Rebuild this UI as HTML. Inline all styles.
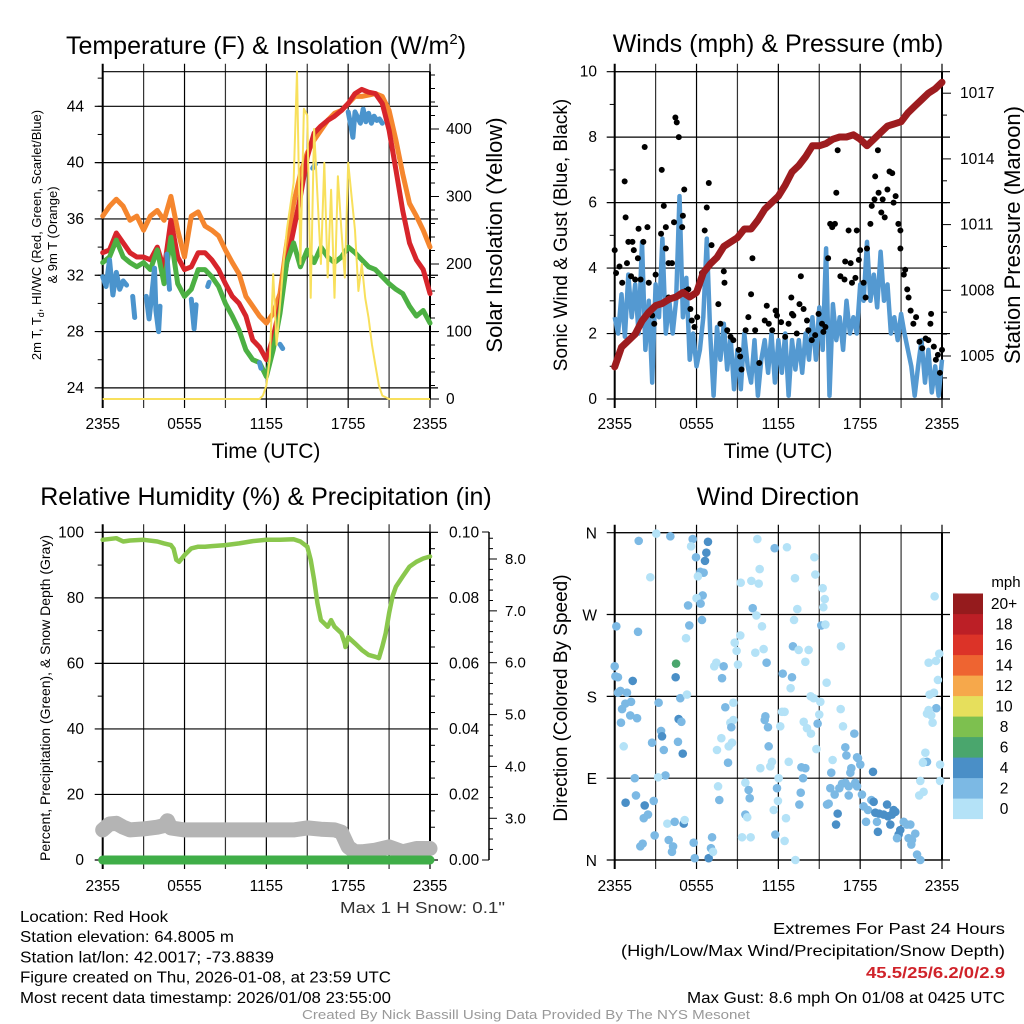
<!DOCTYPE html>
<html><head><meta charset="utf-8">
<style>
html,body{margin:0;padding:0;background:#fff;}
svg{display:block;font-family:"Liberation Sans",sans-serif;}
</style></head>
<body>
<svg id="root" width="1024" height="1024" viewBox="0 0 1024 1024" xmlns="http://www.w3.org/2000/svg"></svg>
<script>
// ---------- DATA ----------
var halfHours = [0,0.5,1,1.5,2,2.5,3,3.5,4,4.5,5,5.5,6,6.5,7,7.5,8,8.5,9,9.5,10,10.5,11,11.5,12,12.5,13,13.5,14,14.5,15,15.5,16,16.5,17,17.5,18,18.5,19,19.5,20,20.5,21,21.5,22,22.5,23,23.5,24];
var temp9m = [36.2,36.9,37.4,36.9,35.9,36.2,35.2,36.2,36.6,35.9,37.6,35.2,33.3,36.2,36.5,35.5,35.2,34.8,33.8,32.9,32.1,30.5,29.8,29.1,28.6,29.3,30.7,34.3,37.1,39.2,40.7,41.6,42.3,43.0,43.5,43.7,44.2,44.7,44.7,44.8,44.9,44.7,43.7,41.6,39.2,37.1,36.2,35.2,34.0];
var temp2m = [33.6,33.8,35.0,34.3,33.6,33.3,33.3,33.1,34.0,32.4,35.9,33.3,32.4,32.6,33.6,33.6,33.1,32.4,31.4,30.5,30.0,29.1,27.4,26.9,26.0,27.6,29.8,32.9,35.2,37.6,40.4,42.1,42.6,43.0,43.3,43.7,44.2,44.9,45.2,45.0,44.9,44.2,42.3,39.5,36.6,34.3,33.1,32.4,30.7];
var dewGreen = [32.9,33.3,34.5,33.3,32.9,32.6,32.9,32.4,33.8,31.4,34.7,31.4,30.5,31.0,32.4,32.4,31.9,31.2,30.0,29.1,28.1,26.7,26.0,25.8,24.8,26.7,29.3,32.9,34.3,32.6,33.8,32.9,34.0,33.3,32.9,33.3,34.0,33.6,33.1,32.6,32.4,31.9,31.4,31.0,30.7,29.8,29.1,29.5,28.6];
var blueTimes = [0,0.25,0.5,0.75,1.0,1.25,1.5,1.75,2.0,2.2,2.35,2.5,3.2,3.4,3.6,3.8,3.9,4.1,4.2,4.35,4.7,4.9,5.05,6.5,6.7,6.85,7.0,7.7,7.8,7.9,11.5,11.6,11.7,13.0,13.2,13.3,15.4,15.6,15.7,18.0,18.2,18.35,18.5,18.7,18.9,19.1,19.3,19.5,19.7,19.9,20.1,20.3,20.5];
var blueTemp = [31.9,31.2,33.1,30.6,32.2,31.0,31.6,31.3,null,30.5,29.0,null,30.5,28.9,30.6,32.5,29.5,28.0,29.8,null,33.5,31.0,null,30.3,28.2,29.9,null,31.2,31.5,null,25.8,25.4,null,27.1,26.8,null,39.6,39.9,null,43.6,42.6,41.8,43.6,43.2,42.8,43.8,42.9,43.5,42.8,43.3,43.0,43.1,42.8];
var solarTimes = [0,11.5,11.75,12,12.25,12.5,12.75,13,13.25,13.5,14,14.25,14.5,14.75,15,15.25,15.5,15.75,16,16.25,16.5,16.75,17,17.25,17.5,17.75,18,18.25,18.5,18.75,19,19.25,19.5,19.75,20,20.25,20.5,21,24];
var solarValues = [0,0,5,20,60,185,80,140,200,250,320,485,200,430,420,150,400,300,200,350,180,310,150,330,250,180,350,300,250,160,200,150,120,80,50,20,5,0,0];

var qHours = [];
for (var i = 0; i <= 96; i++) qHours.push(i/4);
var windSpeed = [2.5,2,3.2,1.9,3.8,2.5,3.5,2,4.8,1.5,3,0.5,3.5,2.5,4.9,2,3,2,3,6.2,2.5,3.7,1.2,2,1,1.5,2.5,4.9,2,0.1,2.2,1.2,2.3,0.9,1.9,0.3,1.5,0.3,2,1,0.5,1.8,0.1,1.2,1.8,0.8,2,0.5,1.8,0.8,2.0,0.1,1.8,0.9,1.8,0.8,2.0,1.2,2.5,1.2,2.8,1.5,4.6,0.1,2.9,1.8,2.5,1.5,3,2,2.5,2,3.5,3,4.8,3,3.8,2.8,4.5,3,3.5,2,2.5,1.8,2.6,2,1.5,1,0.1,1,1.8,0.5,1.5,0.2,1,0.1,1.2];
var pressure = [1004.5,1005.4,1005.7,1006.0,1006.6,1007.0,1007.3,1007.4,1007.6,1007.7,1007.9,1007.7,1007.9,1008.8,1009.2,1009.5,1010.0,1010.2,1010.4,1010.8,1010.8,1011.2,1011.7,1012.0,1012.3,1012.8,1013.4,1013.7,1014.1,1014.6,1014.6,1014.7,1014.9,1015.0,1015.0,1015.1,1014.9,1014.6,1014.9,1015.2,1015.5,1015.6,1015.7,1016.1,1016.4,1016.7,1017.0,1017.2,1017.5];
var gustTimes = [0,0.1,0.35,0.55,0.73,0.8,0.9,1.0,1.3,1.2,1.4,1.7,1.75,1.5,1.9,2.2,2.1,2.4,2.5,2.75,2.9,3.0,3.4,3.45,3.6,3.75,3.75,3.95,3.95,4.2,4.35,4.45,4.55,4.7,4.95,5.0,5.1,5.2,5.4,5.55,5.65,5.85,6.05,6.4,6.6,6.75,6.9,7.1,7.6,7.75,8.0,8.05,8.25,8.5,8.7,9.1,9.2,9.3,9.6,9.8,10.0,10.1,10.3,10.6,11.0,11.15,11.3,11.55,11.8,11.9,12.2,12.5,12.75,12.95,13.0,13.1,13.35,13.55,13.65,13.85,14.1,14.2,14.45,14.7,14.95,15.2,15.3,15.45,15.65,15.8,15.95,16.15,16.25,16.35,16.55,16.85,16.9,17.15,17.3,17.4,17.65,17.75,17.9,18.0,18.25,18.4,18.5,18.75,18.85,19.05,19.1,19.3,19.35,19.55,19.65,19.8,20.0,20.15,20.35,20.45,20.6,20.8,20.95,20.95,21.2,21.3,21.45,21.55,21.7,21.9,22.1,22.35,22.55,22.8,23.0,23.15,23.2,23.4,23.55,23.7,23.85,24];
var gustValues = [4.55,3.85,4.05,3.55,6.65,5.55,4.15,4.8,4.8,3.75,4.55,4.3,5.2,3.65,3.65,7.7,4.8,5.25,3.55,2.55,2.3,3.8,5.05,7.0,5.9,5.25,4.6,4.15,3.1,4.15,5.4,8.6,8.45,8.0,5.25,5.6,6.4,3.3,3.35,2.75,2.4,2.2,2.5,3.85,5.15,5.85,6.6,4.7,2.9,2.3,3.9,3.55,2.1,1.9,1.8,1.5,1.3,0.9,2.1,2.5,3.2,4.3,2.1,1.1,2.4,2.85,2.3,2.1,2.7,2.55,2.35,1.9,2.3,3.1,2.6,2.55,2.0,2.9,3.75,2.75,2.4,2.1,1.8,1.95,2.6,2.3,2.05,2.2,4.3,5.35,5.25,5.35,6.3,7.6,3.75,3.65,4.2,5.15,4.15,3.55,3.7,5.15,4.25,4.55,3.55,3.1,4.6,5.35,5.9,6.1,6.8,7.6,6.3,5.7,6.1,5.55,6.4,6.95,6.9,6.0,6.2,5.35,5.15,4.6,3.8,3.95,3.35,3.1,2.7,2.3,2.5,1.75,1.55,1.85,1.8,2.3,2.6,1.6,1.2,1.35,0.8,1.5];

var rhTimes = [0,1,1.5,2,3,4,4.5,5,5.2,5.4,5.6,6,6.5,7,7.5,8,9,10,11,12,13,14,14.5,15,15.25,15.5,15.75,16,16.25,16.5,16.75,17,17.5,17.75,17.8,18,18.5,19,19.5,20,20.25,20.5,20.75,21,21.25,21.5,22,22.5,23,23.5,24];
var rhValues = [97.7,98.2,97.2,97.5,97.7,97.2,96.6,96.1,95.0,91.6,91.0,93.0,95.1,95.6,95.6,95.8,96.1,96.6,97.3,97.7,97.7,97.9,97.2,95.6,91.6,85.5,78.3,73.2,72.2,71.2,73.2,71.2,69.2,66.1,65.0,68.0,66.1,64.1,62.6,62.0,61.6,65.1,69.2,75.3,80.4,83.4,86.5,89.5,91.0,92.0,92.6];
var snowTimes = [0,0.5,1,1.5,2,3,4,4.5,4.75,5,6,8,10,12,14,15,16,17,17.5,18,18.5,19,20,21,22,23,24];
var snowValues = [9.2,11,11.2,10,9.2,9.5,10,10.5,12,9.8,9.2,9.2,9.2,9.2,9.2,9.8,9.4,9.2,8.5,4,2.5,2.5,3,4,2.5,3.5,3.5];
var precipTimes = [0,24];
var precipValues = [0,0];

var dirTimes = [1.76,3.05,4.08,5.72,5.6,6.84,6.72,5.96,6.62,6.28,6.52,2.61,6.1,6.45,6.0,6.3,5.38,6.4,5.47,5.23,0.12,1.71,0,0.05,0.24,1.32,0.42,0.9,0.24,0.78,1.2,0.54,1.14,1.64,0.46,0.66,1.47,1.56,0.8,2.2,2.86,2.13,2.44,2.05,1.88,2.93,3.22,3.4,3.47,2.74,3.6,3.72,3.18,4.5,4.47,4.81,5.3,4.69,4.89,4.64,4.99,3.86,4.4,5.06,5.13,3.96,4.28,4.2,5.79,5.87,6.89,7.14,7.06,7.21,7.58,7.67,7.3,7.45,7.99,7.87,8.11,8.48,8.7,8.55,7.82,8.36,8.6,7.5,8.31,8.7,8.8,9.21,8.94,9.04,9.24,10.02,10.56,10.63,10.46,10.12,10.39,10.8,10.31,10.92,11.14,9.58,9.82,9.9,9.58,9.72,9.34,9.97,10.68,11.41,11.53,11.9,12.02,11.97,11.66,11.78,12.46,12.56,11.29,11.24,11.05,11.0,12.14,12.27,12.46,12.32,13.0,12.9,11.73,12.63,13.22,13.39,13.15,13.07,13.49,14.22,13.98,13.86,14.1,14.39,14.64,14.71,15.25,15.4,15.3,15.15,15.45,14.37,14.59,15.08,15.0,14.88,15.54,12.76,13.69,13.98,13.81,13.64,13.54,14.79,15.98,15.88,15.81,16.13,15.57,15.69,16.35,16.23,16.59,16.57,16.74,16.91,16.99,17.57,17.35,17.28,17.84,18.01,17.77,16.67,16.91,17.16,17.64,17.77,17.16,16.47,18.13,18.25,18.43,18.57,18.82,18.99,18.94,19.23,19.3,19.11,19.4,19.72,19.97,20.04,20.21,20.45,20.58,20.33,20.82,20.94,21.19,21.43,21.68,20.7,21.55,21.8,22.04,21.75,22.17,22.41,22.33,22.41,22.65,22.78,22.65,22.9,22.6,23.86,23.86,23.46,23.02,23.56,23.8,23.7,23.09,23.41,23.58,22.9,23.31,23.21,23.02,13.25];
var dirDegrees = [351,359,356,353,345,350,338,333,329,317,316,311,312,291,288,282,280,264,258,244,257,251,213,202,201,197,186,184,184,172,174,166,159,156,151,125,90,71,63,60,65,46,50,18,15,27,173,142,136,129,121,93,91,216,201,178,182,155,152,130,117,40,42,40,44,22,15,9,19,2,2,25,13,9,81,66,213,217,213,200,168,151,154,146,134,125,129,121,107,173,239,247,230,215,305,307,304,320,353,277,269,257,228,232,217,85,77,68,50,47,25,25,101,103,108,79,90,65,55,28,21,46,125,146,158,154,147,163,163,205,201,189,343,344,310,276,264,235,231,231,218,152,145,139,333,314,299,287,278,258,259,180,178,174,160,150,195,108,102,101,90,74,61,122,110,96,79,72,61,62,51,39,235,166,147,124,115,139,101,96,112,105,113,84,85,81,85,81,71,79,72,59,42,55,66,64,97,42,31,52,51,50,61,48,39,55,53,50,28,33,42,39,39,24,24,22,29,17,6,0,71,87,75,118,108,108,107,105,87,290,217,219,227,198,182,184,167,161,151,159,165,0];
var dirSpeeds = [3,1,3,3,1,5,5,3,5,3,3,1,1,3,1,3,3,3,3,1,3,3,3,3,3,5,3,3,3,3,3,3,3,3,3,1,3,3,5,5,3,3,3,3,3,3,3,3,5,3,3,3,1,7,5,3,1,5,3,3,5,1,3,5,1,3,3,3,3,3,5,3,3,1,1,3,1,1,3,3,3,1,1,3,1,1,1,1,3,1,1,1,1,1,1,1,1,1,1,3,1,1,1,1,3,1,3,3,3,1,1,1,1,1,1,3,1,1,1,3,1,1,3,3,3,3,1,1,1,3,3,1,3,1,1,1,1,3,1,1,1,1,1,1,1,1,1,1,1,3,1,1,1,1,1,3,1,1,3,3,3,3,3,1,1,3,3,3,3,3,5,5,1,1,1,3,3,3,3,3,3,3,3,3,3,3,3,3,3,3,3,3,3,3,3,5,5,3,5,5,5,5,5,5,5,5,5,5,5,5,3,3,3,3,3,3,3,3,3,3,1,1,1,1,1,3,1,1,1,1,1,1,1,1,1,1,3,1,1,1,1,1,1,1];

var tempTicks = [24,28,32,36,40,44];
var solarTicks = [0,100,200,300,400];
var windTicks = [0,2,4,6,8,10];
var pressTicks = [1005,1008,1011,1014,1017];
var rhTicks = [0,20,40,60,80,100];
var precipTicks = ["0.00","0.02","0.04","0.06","0.08","0.10"];
var snowTicks = ["3.0","4.0","5.0","6.0","7.0","8.0"];
var timeLabels = ["2355","0555","1155","1755","2355"];
var dirLabels = ["N","E","S","W","N"];
var cbLabels = ["0","2","4","6","8","10","12","14","16","18","20+"];
var cbColors = ["#b4e2f7","#7cb9e4","#4a8fc7","#4aa66d","#7dc04f","#e6df5c","#f6a84b","#ee6431","#dc3328","#bc1f26","#951b1d"];

// ---------- HELPERS ----------
var NS = "http://www.w3.org/2000/svg";
var root = document.getElementById('root');
function el(tag, parent){ var e = document.createElementNS(NS, tag); (parent||root).appendChild(e); return e; }
function set(e, o){ for (var k in o) e.setAttribute(k, o[k]); return e; }
function txt(parent, s, x, y, size, anchor, extra){
  var t = el('text', parent);
  set(t, {x:x, y:y, 'font-size':size, 'text-anchor':anchor||'start', fill:'#000'});
  if (extra) set(t, extra);
  t.textContent = s; return t;
}
var X0 = 102.7, X1 = 430, PW = X1 - X0;
function xAt(off, h){ return off + X0 + h*PW/24; }
function pathFrom(xs, ys, xf, yf){
  var d = '', pen = false;
  for (var i=0;i<xs.length;i++){
    if (ys[i]===null){ pen=false; continue; }
    d += (pen?'L':'M') + xf(xs[i]).toFixed(1) + ' ' + yf(ys[i]).toFixed(1) + ' ';
    pen = true;
  }
  return d;
}
function frame(g, off, top, bot){
  var x0 = off+X0, x1 = off+X1;
  for (var i=0;i<=8;i++){
    var x = x0 + i*PW/8;
    var l = el('line', g); set(l,{x1:x,x2:x,y1:top-8,y2:bot+9,stroke:(i%2?'#333':'#000'),'stroke-width':(i==0?2:1.2)});
  }
  var b = el('line', g); set(b,{x1:x0,x2:x1,y1:top,y2:top,stroke:'#000','stroke-width':1.2});
  var b2 = el('line', g); set(b2,{x1:x0,x2:x1,y1:bot,y2:bot,stroke:'#000','stroke-width':1.2});
  var r = el('line', g); set(r,{x1:x1,x2:x1,y1:top,y2:bot,stroke:'#000','stroke-width':2});
}
function hline(g, off, y, left, right){
  var l = el('line', g); set(l,{x1:off+X0-left,x2:off+X1+right,y1:y,y2:y,stroke:'#000','stroke-width':1.2});
}
function tickMark(g, x1, x2, y){
  var l = el('line', g); set(l,{x1:x1,x2:x2,y1:y,y2:y,stroke:'#000','stroke-width':1});
}
function timeAxis(g, off, y){
  for (var i=0;i<timeLabels.length;i++){
    var t = txt(g, timeLabels[i], off+X0+i*PW/4, y, 15.5, 'middle');
    
    
  }
}

// ---------- PANEL 1 ----------
var p1 = el('g');  
function yT(t){ return 106.3 + (44-t)*14.08; }
function yS(s){ return 399 - s*0.675; }
var x1f = function(h){ return xAt(0,h); };
frame(p1, 0, 71.7, 399);
for (var i=0;i<tempTicks.length;i++){
  hline(p1, 0, yT(tempTicks[i]), 8, 8);
  var t = txt(p1, tempTicks[i], 84, yT(tempTicks[i])+5, 15.5, 'end');
   
}
for (var v=24; v<=46; v+=2) tickMark(p1, X0-5, X0, yT(v));
for (var v=0; v<=480; v+=20) tickMark(p1, X1, X1+(v%100==0?9:5), yS(v));
for (var i=0;i<solarTicks.length;i++){
  var t = txt(p1, solarTicks[i], 446, yS(solarTicks[i])+5, 15.5, 'start');
   
}
var sOr = el('path', p1); set(sOr,{d:pathFrom(halfHours,temp9m,x1f,yT),fill:'none',stroke:'#f5862e','stroke-width':5,'stroke-linejoin':'round','stroke-linecap':'round'});
 
var sRd = el('path', p1); set(sRd,{d:pathFrom(halfHours,temp2m,x1f,yT),fill:'none',stroke:'#d7252b','stroke-width':5,'stroke-linejoin':'round','stroke-linecap':'round'});
 
var sGr = el('path', p1); set(sGr,{d:pathFrom(halfHours,dewGreen,x1f,yT),fill:'none',stroke:'#4cb043','stroke-width':5,'stroke-linejoin':'round','stroke-linecap':'round'});
 
var sBl = el('path', p1); set(sBl,{d:pathFrom(blueTimes,blueTemp,x1f,yT),fill:'none',stroke:'#4b94cd','stroke-width':5,'stroke-linejoin':'round','stroke-linecap':'round'});
 
var sYl = el('path', p1); set(sYl,{d:pathFrom(solarTimes,solarValues,x1f,yS),fill:'none',stroke:'#f8e05c','stroke-width':2,'stroke-linejoin':'round'});
 
timeAxis(p1, 0, 429);
var t1 = el('text', p1); set(t1,{x:266,y:54,'font-size':25,'text-anchor':'middle'}); t1.innerHTML = 'Temperature (F) &amp; Insolation (W/m<tspan dy="-10" font-size="15">2</tspan><tspan dy="10">)</tspan>';
 
var xt1 = txt(p1, 'Time (UTC)', 266, 458, 21, 'middle');  
var yl1 = el('text', p1); set(yl1,{transform:'translate(41,235) rotate(-90)','font-size':13,'text-anchor':'middle'}); yl1.innerHTML='2m T, T<tspan dy="3" font-size="9">d</tspan><tspan dy="-3">, HI/WC (Red, Green, Scarlet/Blue)</tspan>';
 
var yl1b = txt(p1, '& 9m T (Orange)', 0, 0, 13, 'middle', {transform:'translate(57,235) rotate(-90)'});
 
var yr1 = txt(p1, 'Solar Insolation (Yellow)', 0, 0, 22, 'middle', {transform:'translate(502,235) rotate(-90)'});
 

// ---------- PANEL 2 ----------
var p2 = el('g');  
var O2 = 512;
function yW(w){ return 399 - w*32.73; }
function yP(p){ return 356 - (p-1005)*21.9; }
var x2f = function(h){ return xAt(O2,h); };
frame(p2, O2, 71.7, 399);
for (var i=0;i<windTicks.length;i++){
  hline(p2, O2, yW(windTicks[i]), 8, 8);
  var t = txt(p2, windTicks[i], 597, yW(windTicks[i])+5, 15.5, 'end');
   
}
for (var v=1; v<10; v+=2) tickMark(p2, O2+X0-5, O2+X0, yW(v));
for (var v=1004; v<=1017; v++) tickMark(p2, O2+X1, O2+X1+((v-1005)%3==0?9:5), yP(v));
for (var i=0;i<pressTicks.length;i++){
  var t = txt(p2, pressTicks[i], 960, yP(pressTicks[i])+5, 15.5, 'start');
   
}
var wl = el('path', p2); set(wl,{d:pathFrom(qHours,windSpeed,x2f,yW),fill:'none',stroke:'#5499d1','stroke-width':4.5,'stroke-linejoin':'round'});
 
for (var i=0;i<gustTimes.length;i++){
  var c = el('circle', p2); set(c,{cx:x2f(gustTimes[i]),cy:yW(gustValues[i]),r:3,fill:'#000'});
   
}
var pl = el('path', p2); set(pl,{d:pathFrom(halfHours,pressure,x2f,yP),fill:'none',stroke:'#9d1c1f','stroke-width':7,'stroke-linejoin':'round','stroke-linecap':'round'});
 
timeAxis(p2, O2, 429);
var t2 = txt(p2, 'Winds (mph) & Pressure (mb)', 778, 52, 25, 'middle');  
var xt2 = txt(p2, 'Time (UTC)', 778, 458, 21, 'middle');  
var yl2 = txt(p2, 'Sonic Wind & Gust (Blue, Black)', 0, 0, 19, 'middle', {transform:'translate(567,235) rotate(-90)'});  
var yr2 = txt(p2, 'Station Pressure (Maroon)', 0, 0, 22, 'middle', {transform:'translate(1020,235) rotate(-90)'});  

// ---------- PANEL 3 ----------
var p3 = el('g');  
function yR(r){ return 860 - r*3.277; }
var x3f = function(h){ return xAt(0,h); };
frame(p3, 0, 532.3, 860);
for (var i=0;i<rhTicks.length;i++){
  hline(p3, 0, yR(rhTicks[i]), 8, 8);
  var t = txt(p3, rhTicks[i], 84, yR(rhTicks[i])+5, 15.5, 'end');
   
  var t2b = txt(p3, precipTicks[i], 449, yR(rhTicks[i])+5, 15.5, 'start');
   
}
for (var v=10; v<100; v+=20) tickMark(p3, X0-5, X0, yR(v));
for (var v=5; v<100; v+=5) if (v%20) tickMark(p3, X1, X1+5, yR(v));
var sax = el('line', p3); set(sax,{x1:489,x2:489,y1:532,y2:860,stroke:'#000','stroke-width':1.5});
 
for (var v=2.4; v<=8.6; v+=0.2) tickMark(p3, 489, 489+(Math.abs(v-Math.round(v))<0.01?8:4), 818.3-(v-3)*51.86);
tickMark(p3, 482, 489, 532); tickMark(p3, 482, 489, 860);
for (var i=0;i<snowTicks.length;i++){
  var t = txt(p3, snowTicks[i], 505, 818.3-i*51.86+5, 15, 'start');
   
}
var sn = el('path', p3); set(sn,{d:pathFrom(snowTimes,snowValues,x3f,yR),fill:'none',stroke:'#b4b4b4','stroke-width':15,'stroke-linejoin':'round','stroke-linecap':'round'});
 
var pr = el('path', p3); set(pr,{d:pathFrom(precipTimes,precipValues,x3f,yR),fill:'none',stroke:'#3fae48','stroke-width':9,'stroke-linecap':'round'});
 
var rl = el('path', p3); set(rl,{d:pathFrom(rhTimes,rhValues,x3f,yR),fill:'none',stroke:'#8ac74d','stroke-width':4.5,'stroke-linejoin':'round','stroke-linecap':'round'});
 
timeAxis(p3, 0, 891);
var t3 = txt(p3, 'Relative Humidity (%) & Precipitation (in)', 266, 505, 25, 'middle');  
var yl3 = txt(p3, 'Percent, Precipitation (Green), & Snow Depth (Gray)', 0, 0, 14, 'middle', {transform:'translate(50,698) rotate(-90)'});  
var ms = txt(p3, 'Max 1 H Snow: 0.1"', 505, 913, 15.5, 'end', {fill:'#333', textLength:165, lengthAdjust:'spacingAndGlyphs'});  

// ---------- PANEL 4 ----------
var p4 = el('g');  
function yD(d){ return 860 - d*327.3/360; }
var x4f = function(h){ return xAt(O2,h); };
frame(p4, O2, 532.7, 860);
for (var i=0;i<dirLabels.length;i++){
  var y = yD(i*90);
  hline(p4, O2, y, 8, 8);
  var t = txt(p4, dirLabels[i], 597, y+6, 15.5, 'end');
   
}
function speedColor(s){ var b = Math.min(10, Math.floor(s/2)); return cbColors[b]; }
for (var i=0;i<dirTimes.length;i++){
  var c = el('circle', p4); set(c,{cx:x4f(dirTimes[i]),cy:yD(dirDegrees[i]),r:4.3,fill:speedColor(dirSpeeds[i])});
   
}
for (var i=0;i<cbColors.length;i++){
  var r = el('rect', p4); set(r,{x:953,y:798.5-i*20.5,width:30,height:20.6,fill:cbColors[i]});
   
  var t = txt(p4, cbLabels[i], 1004, 814-i*20.5, 15.5, 'middle');
   
}
var mph = txt(p4, 'mph', 1006, 587, 15, 'middle');  
timeAxis(p4, O2, 891);
var t4 = txt(p4, 'Wind Direction', 778, 505, 25, 'middle');  
var yl4 = txt(p4, 'Direction (Colored By Speed)', 0, 0, 19, 'middle', {transform:'translate(567,698) rotate(-90)'});  

// ---------- FOOTER ----------
var ft = el('g');  
var info = ['Location: Red Hook','Station elevation: 64.8005 m','Station lat/lon: 42.0017; -73.8839','Figure created on Thu, 2026-01-08, at 23:59 UTC','Most recent data timestamp: 2026/01/08 23:55:00'];
var infoWidths = [148,214,254,371,371];
for (var i=0;i<info.length;i++){
  var t = txt(ft, info[i], 20, 922+i*20.2, 16, 'start', {textLength:infoWidths[i], lengthAdjust:'spacingAndGlyphs'});
   
}
var e1 = txt(ft, 'Extremes For Past 24 Hours', 1005, 934, 16, 'end', {textLength:232, lengthAdjust:'spacingAndGlyphs'});  
var e2 = txt(ft, '(High/Low/Max Wind/Precipitation/Snow Depth)', 1005, 956, 16, 'end', {textLength:384, lengthAdjust:'spacingAndGlyphs'});  
var e3 = txt(ft, '45.5/25/6.2/0/2.9', 1005, 978, 16, 'end', {fill:'#d0232a','font-weight':'bold', textLength:139, lengthAdjust:'spacingAndGlyphs'});  
var e4 = txt(ft, 'Max Gust: 8.6 mph On 01/08 at 0425 UTC', 1005, 1003, 16, 'end', {textLength:318, lengthAdjust:'spacingAndGlyphs'});  
var cr = txt(ft, 'Created By Nick Bassill Using Data Provided By The NYS Mesonet', 526, 1019, 12.5, 'middle', {fill:'#999', textLength:448, lengthAdjust:'spacingAndGlyphs'});  
</script>
</body></html>
